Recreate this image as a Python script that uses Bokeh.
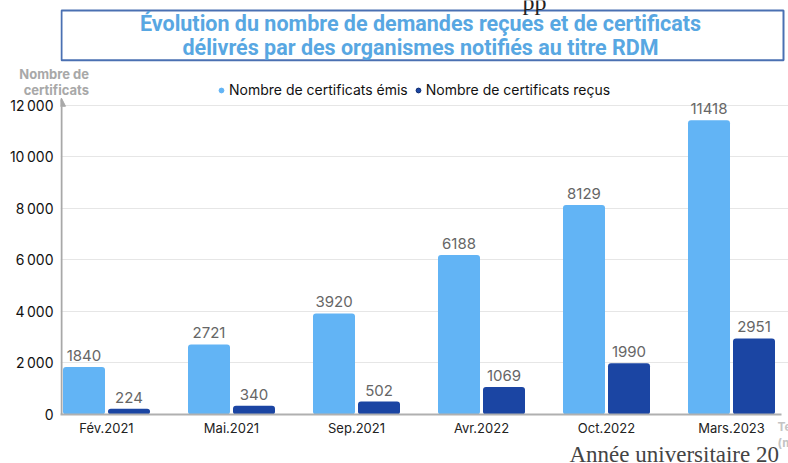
from bokeh.plotting import figure
from bokeh.models import (Range1d, FixedTicker, Label, Legend, LegendItem, Arrow,
                          NormalHead, ColumnDataSource)
from bokeh.transform import dodge
from bokeh.core.properties import value
from bokeh.embed import file_html
from bokeh.resources import INLINE

# ---------------- data ----------------
periods = ["Fév.2021", "Mai.2021", "Sep.2021", "Avr.2022", "Oct.2022", "Mars.2023"]
emis = [1840, 2721, 3920, 6188, 8129, 11418]
recus = [224, 340, 502, 1069, 1990, 2951]
y_ticks = [0, 2000, 4000, 6000, 8000, 10000, 12000]
y_tick_labels = ["0", "2\u202f000", "4\u202f000", "6\u202f000", "8\u202f000", "10\u202f000", "12\u202f000"]
series_names = ["Nombre de certificats émis", "Nombre de certificats reçus"]
title_lines = ["Évolution du nombre de demandes reçues et de certificats",
               "délivrés par des organismes notifiés au titre RDM"]
y_title = "Nombre de\ncertificats"
x_title_fragment = "Te\n(m"
page_footer = "Année universitaire 20"

# ---------------- geometry ----------------
W, H = 788, 463
LEFT, BOTTOM = 60, 48
FRAME_W, FRAME_H = W - LEFT, H - BOTTOM
PX_X = 125.0                      # px per category
X0 = -(106 - LEFT) / PX_X         # first group centre at px 106
PX_Y = (FRAME_H - 105) / 12000.0  # px per unit
Y_END = FRAME_H / PX_Y

def dx(px):
    return X0 + (px - LEFT) / PX_X

def dy(py):
    return (FRAME_H - py) / PX_Y

LIGHT = "#62b4f5"
DARK = "#1b45a3"
FONT = "Inter"

p = figure(width=W, height=H, output_backend="svg", toolbar_location=None,
           x_range=Range1d(X0, X0 + FRAME_W / PX_X), y_range=Range1d(0, Y_END),
           min_border_left=LEFT, min_border_right=0, min_border_top=0,
           min_border_bottom=BOTTOM, outline_line_color=None)
p.background_fill_color = "white"
p.border_fill_color = "white"

xs = list(range(len(periods)))
src = ColumnDataSource(dict(x=xs, emis=emis, recus=recus,
                            emis_t=[str(v) for v in emis], recus_t=[str(v) for v in recus]))

off = 22.5 / PX_X
bw = 42 / PX_X
p.vbar(x=dodge("x", -off), top="emis", width=bw, source=src, fill_color=LIGHT,
       line_color=None, border_radius=3)
p.vbar(x=dodge("x", off), top="recus", width=bw, source=src, fill_color=DARK,
       line_color=None, border_radius=3)

for col, xo in (("emis_t", -off), ("recus_t", off)):
    p.text(x=dodge("x", xo), y=col[:-2], text=col, source=src, text_align="center",
           text_baseline="bottom", y_offset=-6, text_color="#666666",
           text_font=value(FONT), text_font_size="15px")

# ---- x axis ----
p.xaxis.ticker = FixedTicker(ticks=xs)
p.xaxis.major_label_overrides = {i: s for i, s in enumerate(periods)}
p.xaxis.major_tick_line_color = None
p.xaxis.major_tick_out = 0
p.xaxis.major_tick_in = 0
p.xaxis.minor_tick_line_color = None
p.xaxis.axis_line_color = "#b0b0b0"
p.xaxis.axis_line_width = 2
p.xaxis.bounds = (X0, dx(781))
p.xaxis.major_label_text_font = FONT
p.xaxis.major_label_text_font_size = "13px"
p.xaxis.major_label_text_color = "#222222"
p.xaxis.major_label_standoff = 5

# ---- y axis ----
p.yaxis.ticker = FixedTicker(ticks=y_ticks)
p.yaxis.major_label_overrides = {t: s for t, s in zip(y_ticks, y_tick_labels)}
p.yaxis.major_tick_line_color = None
p.yaxis.major_tick_out = 0
p.yaxis.major_tick_in = 0
p.yaxis.minor_tick_line_color = None
p.yaxis.axis_line_color = None
p.yaxis.major_label_text_font = FONT
p.yaxis.major_label_text_font_size = "14px"
p.yaxis.major_label_text_color = "#111111"
p.yaxis.major_label_standoff = 7
# axis title drawn at the top end of the axis (pushed down by empty leading lines)
p.yaxis.axis_label = "\n" * 10 + y_title
p.yaxis.axis_label_orientation = "horizontal"
p.yaxis.axis_label_align = "end"
p.yaxis.axis_label_standoff = -82
p.yaxis.axis_label_text_font = FONT
p.yaxis.axis_label_text_font_style = "bold"
p.yaxis.axis_label_text_font_size = "13px"
p.yaxis.axis_label_text_color = "#a8a8a8"
p.yaxis.axis_label_text_line_height = 1.02

p.xgrid.grid_line_color = None
p.ygrid.grid_line_color = "#e6e6e6"
p.ygrid.grid_line_width = 1

# y axis arrow
p.add_layout(Arrow(x_start=dx(61), y_start=0, x_end=dx(61), y_end=dy(98),
                   line_color="#a8a8a8", line_width=2,
                   end=NormalHead(size=8, fill_color="#a8a8a8", line_color="#a8a8a8")))

# title box
p.quad(left=[dx(61)], right=[dx(783)], top=[dy(10)], bottom=[dy(60)],
       fill_color="white", line_color="#4a70b2", line_width=2)
for i, line in enumerate(title_lines):
    p.add_layout(Label(x=dx(420), y=dy(23 + i * 24), text=line, text_align="center",
                       text_baseline="middle", text_font="Roboto", text_font_style="bold",
                       text_font_size="21.5px", text_color="#58a7e2"))

# legend with circle markers
r1 = p.scatter(x=[-50], y=[-50], marker="circle", size=12, fill_color=LIGHT, line_color=LIGHT)
r2 = p.scatter(x=[-50], y=[-50], marker="circle", size=12, fill_color=DARK, line_color="#0b2a6e")
legend = Legend(items=[LegendItem(label=series_names[0], renderers=[r1]),
                       LegendItem(label=series_names[1], renderers=[r2])],
                orientation="horizontal", location=(155, FRAME_H - 99),
                label_text_font=FONT, label_text_font_size="14px",
                label_text_color="#111111", glyph_width=12, glyph_height=12,
                label_standoff=2, spacing=4, padding=0, margin=0,
                border_line_color=None, background_fill_alpha=0)
p.add_layout(legend, "center")

# x axis title fragment at the right edge (side-panel label, drawn in data coordinates)
p.add_layout(Label(x=dx(777), y=dy(420), text=x_title_fragment, text_align="left",
                   text_baseline="top", text_font=FONT, text_font_style="bold",
                   text_font_size="12px", text_color="#c4c4c4",
                   text_line_height=1.05), "left")

# page text under the chart (side-panel label, drawn in data coordinates)
p.add_layout(Label(x=dx(569), y=dy(455), text=page_footer, text_align="left",
                   text_baseline="alphabetic", text_font="Liberation Serif",
                   text_font_size="23px", text_color="#444444",
                   text_line_height=1.0), "below")

# fragment of the page text above the chart
p.add_layout(Label(x=dx(522), y=dy(2), text="pp", text_align="left",
                   text_baseline="alphabetic", text_font="Liberation Serif",
                   text_font_size="24px", text_color="#222222"))

open("out.html", "w").write(file_html(p, INLINE))
